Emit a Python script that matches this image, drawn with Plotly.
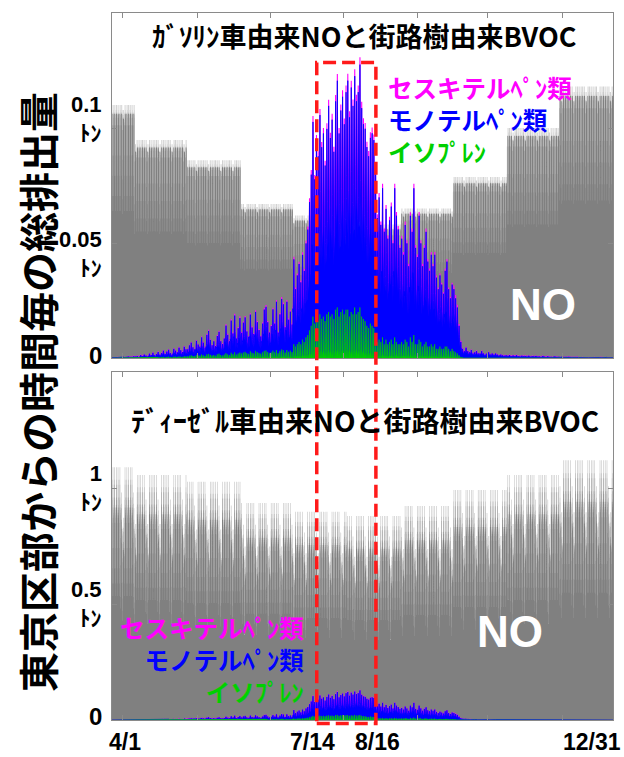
import plotly.graph_objects as go

# ---------------- data ----------------
# x axis: days relative to 4/1 ; data runs 3/19 .. 12/31
month_days = [13, 30, 31, 30, 31, 31, 30, 31, 30, 31]          # Mar(19-31) .. Dec
day_start = -13

# monthly NO level (top of daily cycle), ton / hour
gas_level = [0.110, 0.0948, 0.086, 0.067, 0.062, 0.058, 0.065, 0.0787, 0.100, 0.118]
diesel_level = [1.09, 1.056, 1.027, 0.935, 0.898, 0.879, 0.922, 0.991, 1.056, 1.12]

# diurnal profiles (fraction of the monthly level), hours 0..23
gas_profile = [0.92, 0.80, 0.64, 0.58, 0.72, 0.92, 0.965, 1.0, 1.0, 0.97, 0.965, 0.965,
               0.965, 0.965, 0.965, 0.97, 1.0, 1.0, 1.0, 0.98, 0.965, 0.965, 0.96, 0.95]
diesel_profile = [0.80, 0.68, 0.54, 0.49, 0.60, 0.78, 0.84, 0.87, 0.93, 1.0, 1.0, 0.95,
                  0.88, 0.95, 1.0, 1.0, 0.93, 0.88, 0.85, 0.84, 0.84, 0.83, 0.82, 0.81]
gas_week = [1.0, 1.0, 1.0, 1.0, 1.0, 1.0, 0.98]
diesel_week = [1.0, 1.0, 1.0, 1.0, 1.0, 0.9, 0.8]

iso_profile = [0, 0, 0, 0, 0, 0.03, 0.15, 0.35, 0.55, 0.72, 0.86, 0.95,
               1.0, 0.98, 0.90, 0.76, 0.58, 0.38, 0.18, 0.05, 0, 0, 0, 0]
mono_profile = [0.58, 0.56, 0.55, 0.54, 0.54, 0.55, 0.60, 0.67, 0.75, 0.83, 0.90, 0.95,
                0.99, 1.0, 0.97, 0.91, 0.83, 0.75, 0.69, 0.65, 0.63, 0.61, 0.60, 0.59]

# daily peaks, 1e-3 ton / hour
iso_mar = [0.0, 0.0, 0.0, 0.0, 0.0, 0.0, 0.0, 0.0, 0.0, 0.0, 0.0, 0.0, 0.0]
mono_mar = [0.2, 0.3, 0.2, 0.4, 0.3, 0.2, 0.5, 0.3, 0.4, 0.6, 0.4, 0.5, 0.7]
iso_apr = [0.1, 0.1, 0.1, 0.2, 0.1, 0.2, 0.2, 0.1, 0.3, 0.2, 0.3, 0.2, 0.3, 0.4, 0.3,
           0.4, 0.5, 0.3, 0.5, 0.6, 0.4, 0.3, 0.6, 0.6, 0.5, 0.7, 0.6, 0.5, 0.8, 0.7]
mono_apr = [0.5, 0.8, 0.4, 1.1, 0.7, 1.3, 0.9, 0.6, 1.6, 1.1, 2.0, 1.0, 1.4, 2.2, 1.2,
            1.8, 2.7, 1.5, 2.3, 3.0, 1.8, 1.3, 3.4, 2.6, 2.0, 3.8, 2.8, 2.1, 4.1, 3.1]
iso_may = [0.8, 1.0, 1.2, 0.9, 0.8, 1.3, 1.1, 1.0, 1.5, 1.2, 0.9, 1.6, 1.8, 1.4, 1.1, 1.3,
           1.0, 1.6, 1.9, 1.3, 1.1, 1.5, 2.1, 1.6, 1.3, 2.3, 1.7, 2.5, 1.5, 2.0, 2.4]
mono_may = [3.0, 4.5, 5.5, 3.8, 3.0, 6.2, 4.8, 4.0, 7.5, 5.5, 3.6, 8.5, 10.0, 6.5, 4.5, 6.0,
            4.2, 8.0, 9.5, 6.0, 5.0, 7.0, 12.0, 8.5, 6.0, 14.0, 9.0, 16.0, 7.0, 11.0, 15.0]
iso_jun = [2.0, 2.4, 2.7, 2.1, 1.8, 2.9, 2.3, 2.0, 3.1, 2.6, 2.2, 1.9, 2.5, 3.1, 3.3,
           2.6, 2.1, 2.4, 3.2, 2.5, 3.5, 2.1, 3.0, 3.7, 3.4, 2.4, 3.5, 2.7, 3.2, 2.6]
mono_jun = [9.0, 13.0, 15.0, 9.5, 7.5, 16.0, 11.0, 8.5, 17.0, 13.0, 10.0, 7.5, 12.5, 18.0, 19.0,
            13.0, 9.0, 11.5, 18.0, 12.5, 21.0, 9.0, 16.0, 22.0, 20.0, 11.0, 21.0, 14.0, 17.0, 12.0]
iso_jul = [6, 5, 6, 7, 6, 8, 7, 9, 10, 12, 14, 18, 15, 17, 16, 19,
           17, 18, 16, 19, 20, 18, 19, 17, 21, 22, 18, 20, 21, 19, 21]
mono_jul = [37, 25, 30, 34, 27, 37, 31, 41, 46, 56, 66, 85, 63, 78, 72, 87,
            75, 80, 68, 81, 90, 78, 85, 73, 91, 99, 80, 88, 93, 83, 95]
iso_aug = [21, 18, 20, 19, 22, 19, 20, 22, 18, 17, 16, 14, 13, 15, 14, 13,
           9, 7, 8, 7, 9, 6, 8, 6, 7, 8, 6, 9, 7, 6, 6]
mono_aug = [100, 87, 98, 91, 101, 93, 96, 106, 91, 85, 84, 78, 75, 81, 84, 82,
            71, 54, 62, 51, 65, 49, 57, 46, 53, 58, 44, 65, 55, 50, 42]
iso_sep = [7, 6, 8, 7, 5, 9, 7, 10, 6, 6, 8, 7, 5, 6, 7,
           5, 5, 6, 5, 6, 4, 4, 5, 4, 4, 5, 5, 4, 3, 4]
mono_sep = [45, 39, 50, 43, 35, 53, 48, 64, 42, 38, 54, 43, 35, 42, 48,
            37, 33, 39, 35, 39, 31, 26, 31, 28, 24, 33, 37, 26, 23, 28]
iso_oct = [3, 2.5, 2, 1.2, 0.5, 0.2, 0.1, 0.2, 0.1, 0.1, 0.1, 0, 0, 0, 0, 0,
           0, 0, 0, 0, 0, 0, 0, 0, 0, 0, 0, 0, 0, 0, 0]
mono_oct = [27, 23.5, 20, 12.8, 6.5, 3.8, 2.9, 4.3, 2.9, 2.4, 3.4, 2, 2.5, 3, 2, 2,
            3, 2, 1.5, 2, 2.5, 1.5, 2, 1.5, 2, 1.5, 1.2, 1.5, 1.2, 1, 1.2]
iso_nov = [0, 0, 0, 0, 0, 0, 0, 0, 0, 0, 0, 0, 0, 0, 0,
           0, 0, 0, 0, 0, 0, 0, 0, 0, 0, 0, 0, 0, 0, 0]
mono_nov = [1.0, 1.3, 0.8, 1.1, 0.9, 1.2, 0.8, 0.7, 1.0, 0.8, 0.9, 0.7, 1.0, 0.6, 0.8,
            0.7, 0.9, 0.6, 0.7, 0.5, 0.8, 0.6, 0.5, 0.7, 0.5, 0.6, 0.4, 0.6, 0.5, 0.4]
iso_dec = [0, 0, 0, 0, 0, 0, 0, 0, 0, 0, 0, 0, 0, 0, 0, 0,
           0, 0, 0, 0, 0, 0, 0, 0, 0, 0, 0, 0, 0, 0, 0]
mono_dec = [0.4, 0.5, 0.3, 0.4, 0.3, 0.5, 0.3, 0.4, 0.3, 0.3, 0.4, 0.2, 0.3, 0.3, 0.2, 0.3,
            0.2, 0.3, 0.2, 0.2, 0.3, 0.2, 0.2, 0.3, 0.2, 0.2, 0.2, 0.3, 0.2, 0.2, 0.2]
sesq_frac = [0.10, 0.08, 0.05, 0.04, 0.03, 0.03, 0.03, 0.06, 0.10, 0.12]

iso_daily = [iso_mar, iso_apr, iso_may, iso_jun, iso_jul, iso_aug, iso_sep, iso_oct, iso_nov, iso_dec]
mono_daily = [mono_mar, mono_apr, mono_may, mono_jun, mono_jul, mono_aug, mono_sep, mono_oct, mono_nov, mono_dec]

# tick labels
date_labels = ["4/1", "7/14", "8/16", "12/31"]
date_days = [0, 104, 137, 274]
top_tick_vals = [0, 0.05, 0.1]
top_tick_text = ["0", "0.05", "0.1"]
bot_tick_vals = [0, 0.5, 1]
bot_tick_text = ["0", "0.5", "1"]
unit_text = "ﾄﾝ"
legend_text = ["セスキテルﾍﾟﾝ類", "モノテルﾍﾟﾝ類", "イソﾌﾟﾚﾝ"]

# ---------------- build hourly series ----------------
x, gas, dsl, iso, blue_top, total = [], [], [], [], [], []
day = day_start
for m, nd in enumerate(month_days):
    for d in range(nd):
        dow = (day - day_start) % 7
        for h in range(24):
            x.append(day + h / 24.0)
            gas.append(gas_level[m] * gas_profile[h] * gas_week[dow])
            dsl.append(diesel_level[m] * diesel_profile[h] * diesel_week[dow])
            i_v = iso_daily[m][d] * 1e-3 * iso_profile[h]
            m_v = mono_daily[m][d] * 1e-3 * mono_profile[h]
            s_v = m_v * sesq_frac[m]
            iso.append(i_v)
            blue_top.append(i_v + m_v)
            total.append(i_v + m_v + s_v)
        day += 1
x.append(day); gas.append(gas[-1]); dsl.append(dsl[-1])
iso.append(iso[-1]); blue_top.append(blue_top[-1]); total.append(total[-1])

GRAY = "#808080"
MAG = "#ff00ff"
BLUE = "#0000ff"
GREEN = "#00d000"

fig = go.Figure()
for no_vals, xa, ya in [(gas, "x", "y"), (dsl, "x2", "y2")]:
    fig.add_trace(go.Scatter(x=x, y=no_vals, mode="lines", xaxis=xa, yaxis=ya,
                             line=dict(width=0, shape="hv", color=GRAY),
                             fill="tozeroy", fillcolor=GRAY, hoverinfo="skip"))
    fig.add_trace(go.Scatter(x=x, y=total, mode="lines", xaxis=xa, yaxis=ya,
                             line=dict(width=1.1, color=MAG), hoverinfo="skip"))
    fig.add_trace(go.Scatter(x=x, y=blue_top, mode="lines", xaxis=xa, yaxis=ya,
                             line=dict(width=0.8, color=BLUE),
                             fill="tozeroy", fillcolor=BLUE, hoverinfo="skip"))
    fig.add_trace(go.Scatter(x=x, y=iso, mode="lines", xaxis=xa, yaxis=ya,
                             line=dict(width=0.6, color=GREEN),
                             fill="tozeroy", fillcolor=GREEN, hoverinfo="skip"))

x_ticks = [-7.25, 35.86, 77.83, 119.79, 162.33, 203.14, 245.68]
axis_common = dict(showline=True, linecolor="#8a8a8a", linewidth=1, mirror="ticks",
                   ticks="inside", ticklen=5, tickcolor="#8a8a8a",
                   showgrid=False, zeroline=False, showticklabels=False)

fig.update_layout(
    width=624, height=757,
    margin=dict(l=112, r=11, t=13, b=37),
    paper_bgcolor="white", plot_bgcolor="white",
    showlegend=False,
    xaxis=dict(domain=[0, 1], anchor="y", range=[-13, 275], tickvals=x_ticks, **axis_common),
    xaxis2=dict(domain=[0, 1], anchor="y2", range=[-13, 275], tickvals=x_ticks, **axis_common),
    yaxis=dict(domain=[0.512, 1], anchor="x", range=[0, 0.15], tickvals=top_tick_vals, **axis_common),
    yaxis2=dict(domain=[0, 0.4922], anchor="x2", range=[0, 1.5], tickvals=bot_tick_vals, **axis_common),
)

NUMF = "Liberation Sans, Arial, sans-serif"
PAIRF = "Liberation Sans, Arial, Noto Sans CJK JP, sans-serif"
JPF = "Noto Sans CJK JP, sans-serif"
ann = []


def num_font(size=24, family=NUMF):
    return dict(family=family, size=size, color="black", weight="bold")


# y tick labels: value over unit in one two-line label
top_shifts = [3, -11, 9]
for v, t, s in zip(top_tick_vals, top_tick_text, top_shifts):
    ann.append(dict(x=0, xref="paper", y=v, yref="y",
                    text=t if v == 0 else t + "<br>" + unit_text, showarrow=False,
                    xanchor="right", yanchor="middle", align="right", xshift=-8, yshift=s,
                    font=num_font(24 if v == 0 else 22, PAIRF)))
bot_shifts = [4, 0, 0]
for v, t, s in zip(bot_tick_vals, bot_tick_text, bot_shifts):
    ann.append(dict(x=0, xref="paper", y=v, yref="y2",
                    text=t if v == 0 else t + "<br>" + unit_text, showarrow=False,
                    xanchor="right", yanchor="middle", align="right", xshift=-8, yshift=s,
                    font=num_font(24 if v == 0 else 22, PAIRF)))

# date labels under the bottom panel
date_shifts = [-10, -3, 5, -19]
for lab, dd, sh in zip(date_labels, date_days, date_shifts):
    ann.append(dict(x=dd, xref="x2", y=-0.0311, yref="paper", text=lab, showarrow=False,
                    xanchor="center", yanchor="middle", xshift=sh, font=num_font(23)))

# panel titles
ann.append(dict(x=0.503, y=0.9675, xref="paper", yref="paper", showarrow=False,
                text="ｶﾞｿﾘﾝ車由来NOと街路樹由来BVOC", xanchor="center", yanchor="middle",
                font=dict(family=JPF, size=27, color="black", weight="bold")))
ann.append(dict(x=0.505, y=0.4243, xref="paper", yref="paper", showarrow=False,
                text="ﾃﾞｨｰｾﾞﾙ車由来NOと街路樹由来BVOC", xanchor="center", yanchor="middle",
                font=dict(family=JPF, size=28, color="black", weight="bold")))

# in-plot legends (one coloured block each)
leg_col = [MAG, BLUE, GREEN]
leg_html = "<br>".join('<span style="color:%s">%s</span>' % (c, t)
                       for t, c in zip(legend_text, leg_col))
ann.append(dict(x=0.547, y=0.8490, xref="paper", yref="paper", text=leg_html, showarrow=False,
                xanchor="left", align="left", yanchor="middle",
                font=dict(family=JPF, size=24.5, color=BLUE, weight="bold")))
ann.append(dict(x=0.3872, y=0.0849, xref="paper", yref="paper", text=leg_html, showarrow=False,
                xanchor="right", align="right", yanchor="middle",
                font=dict(family=JPF, size=24.5, color=BLUE, weight="bold")))

# NO labels
ann.append(dict(x=0.8603, y=0.5884, xref="paper", yref="paper", text="NO", showarrow=False,
                xanchor="center", yanchor="middle",
                font=dict(family="Liberation Sans, Arial", size=44, color="white", weight="bold")))
ann.append(dict(x=0.7944, y=0.1245, xref="paper", yref="paper", text="NO", showarrow=False,
                xanchor="center", yanchor="middle",
                font=dict(family="Liberation Sans, Arial", size=44, color="white", weight="bold")))

# y-axis title
ann.append(dict(x=-0.1497, y=0.464, xref="paper", yref="paper", text="東京区部からの時間毎の総排出量",
                showarrow=False, textangle=-90, xanchor="center", yanchor="middle",
                font=dict(family=JPF, size=40, color="black", weight="bold")))

fig.update_layout(annotations=ann)

# red dashed box around 7/14 - 8/16
fig.add_shape(type="rect", xref="x", yref="paper", x0=104.7, x1=138.7, y0=-0.005, y1=0.93,
              line=dict(color="#ff1a1a", width=3.5, dash="13px,6px"), layer="above")

fig.write_html("out.html", config={"displayModeBar": False},
               post_script="document.body.style.margin='0';")
